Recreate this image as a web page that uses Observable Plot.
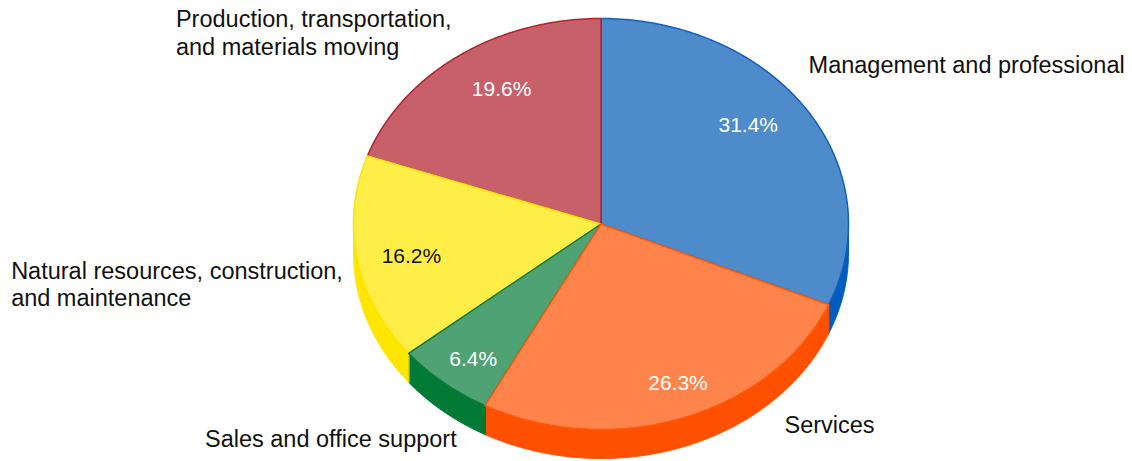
<!DOCTYPE html>
<html><head><meta charset="utf-8">
<script src="https://cdn.jsdelivr.net/npm/d3@7"></script>
<script src="https://cdn.jsdelivr.net/npm/@observablehq/plot@0.6"></script>
<style>body{margin:0;background:#fff}#chart svg{display:block}</style>
</head><body><div id="chart"></div>
<script>
// ---- data ----
const categories = [
  "Management and professional",
  "Services",
  "Sales and office support",
  "Natural resources, construction,\nand maintenance",
  "Production, transportation,\nand materials moving"
];
const shares = [31.4, 26.3, 6.4, 16.2, 19.6];
const topColors = ["#4E8BCB", "#FF844B", "#4FA273", "#FFEE47", "#C8606A"];
const edgeColors = ["#1060C0", "#FF5A0A", "#0B7A3A", "#FFE200", "#B0222E"];
const sideColors = ["#005CBF", "#FF5000", "#007A35", "#FFE600", "#A8202C"];
const pctColors = ["#ffffff", "#ffffff", "#ffffff", "#111111", "#ffffff"];

// ---- layout ----
const W = 1132, H = 461;
const cx = 600.5, cy = 223.5, rx = 247.5, ry = 205.5, depthPx = 29;
const depth = depthPx / ry;
const font = "'Liberation Sans', Helvetica, Arial, sans-serif";
// label nudges (px) relative to computed anchor points
const pctNudge = [[-18, -8], [11, 4], [-2, 8.5], [5.5, 4], [15, -1]];
const outer = [
  {anchor: "start", dx: 1, dy: -47},
  {anchor: "start", dx: 101, dy: 6},
  {anchor: "end", dx: 13, dy: 55},
  {anchor: "start", dx: -346, dy: 24.5},
  {anchor: "start", dx: -282, dy: -24}
];
const drawOrder = [0, 4, 3, 2, 1];

const arcs = d3.pie().sort(null).value(d => d)(shares);
const step = Math.PI / 360;
function arcPts(a0, a1, r = 1, off = 0) {
  const n = Math.max(2, Math.ceil((a1 - a0) / step));
  return d3.range(n + 1).map(i => {
    const a = a0 + (a1 - a0) * i / n;
    return {x: r * Math.sin(a), y: r * Math.cos(a) - off};
  });
}
const slices = arcs.map((a, i) => {
  const top = [{x: 0, y: 0}, ...arcPts(a.startAngle, a.endAngle)];
  const s = Math.max(a.startAngle, Math.PI / 2), e = Math.min(a.endAngle, 3 * Math.PI / 2);
  const side = s < e ? [...arcPts(s, e), ...arcPts(s, e, 1, depth).reverse()] : null;
  const mid = (a.startAngle + a.endAngle) / 2;
  return {i, top, side, mid};
});

const marks = [];
slices.forEach(s => {
  if (s.side) marks.push(Plot.line(s.side, {x: "x", y: "y", fill: sideColors[s.i], stroke: sideColors[s.i], strokeWidth: 1, curve: "linear-closed"}));
});
drawOrder.forEach(i => {
  const s = slices[i];
  marks.push(Plot.line(s.top, {x: "x", y: "y", fill: topColors[i], stroke: edgeColors[i], strokeWidth: 1.5, curve: "linear-closed"}));
});
slices.forEach(s => {
  const i = s.i;
  marks.push(Plot.text([s], {
    x: d => 0.8 * Math.sin(d.mid), y: d => 0.8 * Math.cos(d.mid),
    text: () => shares[i].toFixed(1) + "%",
    dx: pctNudge[i][0], dy: pctNudge[i][1],
    fill: pctColors[i], fontSize: 21, fontFamily: font, textAnchor: "middle"
  }));
  marks.push(Plot.text([s], {
    x: d => Math.sin(d.mid), y: d => Math.cos(d.mid),
    text: () => categories[i],
    dx: outer[i].dx, dy: outer[i].dy, textAnchor: outer[i].anchor,
    lineHeight: 1.19, fill: "#111", fontSize: 23.5, fontFamily: font
  }));
});

const chart = Plot.plot({
  width: W, height: H, margin: 0,
  style: {fontFamily: font, background: "#fff"},
  x: {domain: [-1, 1], range: [cx - rx, cx + rx], axis: null},
  y: {domain: [-1, 1], range: [cy + ry, cy - ry], axis: null},
  marks
});
document.getElementById("chart").appendChild(chart);
</script>
</body></html>
